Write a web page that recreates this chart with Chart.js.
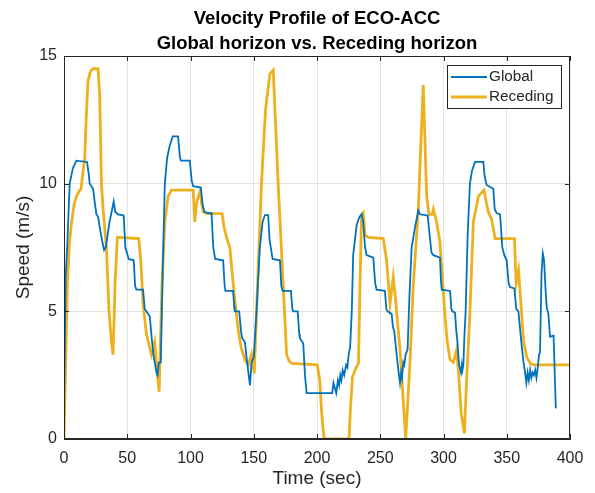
<!DOCTYPE html>
<html>
<head>
<meta charset="utf-8">
<script src="https://cdn.jsdelivr.net/npm/chart.js@4"></script>
<style>
  html, body { margin: 0; padding: 0; background: #fff; }
  canvas { display: block; }
</style>
</head>
<body>
<canvas id="speedChart" width="595" height="493"></canvas>
<script>
// values
const timeTicks = [0, 50, 100, 150, 200, 250, 300, 350, 400];
const speedTicks = [0, 5, 10, 15];

const globalTime = [0, 1.3, 2.5, 4.5, 7, 9.8, 18.2, 19.5, 20.3, 23, 24.5, 25.6, 27, 28.2, 30, 31.7, 33, 36, 39.3, 40.5, 42.7, 47.2, 48.5, 51.2, 55.1, 56.2, 57.2, 62.5, 63.8, 65.1, 67.8, 69.6, 71, 73.1, 73.9, 75, 76.5, 78, 79.7, 81.5, 83.6, 86, 90.2, 91.5, 92.3, 99.4, 101, 102.1, 108.2, 109.5, 111, 113.9, 116.6, 118, 119.5, 125.8, 127, 127.6, 133.7, 134.5, 135, 138.5, 140, 140.9, 143, 144.3, 146, 147, 148.2, 150, 152.2, 154.8, 157, 158.8, 161.4, 162.5, 164.9, 170.7, 171.8, 172.8, 179.4, 180.5, 181.2, 184.7, 186, 186.5, 189.1, 190.5, 191.8, 212, 213, 215.2, 216.5, 217.5, 218.4, 219.3, 220.3, 221.5, 223, 224, 225, 226.2, 227.5, 228.6, 231.3, 233.5, 235.3, 236.5, 238, 239.2, 244.5, 246, 247.1, 253.7, 254.8, 255.8, 259, 260, 261.1, 263, 264.3, 265.6, 266.5, 267.2, 268.2, 269, 270, 271.6, 273, 274.8, 277.5, 280.1, 281.5, 287.5, 289, 290.5, 292, 297.2, 298, 298.6, 305.2, 306.2, 307, 309.1, 310, 311, 312.3, 313.8, 314.5, 315, 315.7, 316.5, 317.5, 319.1, 320.9, 322.5, 324.9, 331.5, 332.5, 334.1, 339.4, 340.5, 342, 344.7, 346.5, 348.1, 349.9, 351.5, 352.6, 356, 357.5, 359.2, 360, 361.3, 363, 364.5, 365.5, 366.5, 367.5, 368.5, 369.5, 370.5, 371.5, 372.5, 373.5, 374.5, 375.5, 376.3, 377.5, 378.5, 379.5, 380.5, 381.6, 382.9, 384.2, 387, 388.8];
const globalSpeed = [1.0, 6.3, 7.5, 10.0, 10.6, 10.9, 10.85, 10.4, 10.0, 9.8, 9.2, 8.8, 8.7, 8.3, 7.8, 7.4, 7.5, 8.5, 9.3, 8.9, 8.8, 8.75, 7.5, 7.05, 7.0, 6.0, 5.85, 5.85, 5.1, 5.0, 4.8, 3.8, 3.2, 2.6, 2.5, 3.0, 3.0, 6.5, 10.0, 11.0, 11.5, 11.85, 11.85, 11.1, 10.9, 10.9, 10.1, 9.9, 9.85, 9.2, 8.9, 8.85, 8.85, 7.5, 7.05, 7.0, 6.0, 5.8, 5.8, 5.2, 5.0, 5.0, 4.2, 3.95, 3.8, 3.2, 2.5, 2.1, 3.0, 3.2, 5.0, 7.5, 8.5, 8.77, 8.77, 7.8, 7.05, 7.0, 6.0, 5.8, 5.8, 5.1, 5.0, 5.0, 4.1, 3.95, 3.75, 2.5, 1.8, 1.8, 2.2, 1.8, 2.3, 2.1, 2.5, 2.3, 2.7, 2.5, 2.9, 2.8, 3.3, 3.6, 5.0, 7.2, 8.37, 8.7, 8.8, 8.5, 7.5, 7.2, 7.1, 6.1, 5.85, 5.8, 5.1, 5.0, 4.9, 4.4, 4.2, 3.3, 2.7, 2.2, 2.6, 2.4, 3.0, 2.9, 3.3, 3.5, 5.5, 7.5, 8.3, 8.95, 8.8, 8.75, 8.0, 7.3, 7.2, 7.1, 6.2, 5.85, 5.8, 5.1, 5.0, 4.95, 4.3, 3.8, 2.9, 2.6, 2.9, 2.7, 2.9, 4.0, 5.0, 8.0, 10.0, 10.5, 10.85, 10.85, 10.3, 9.95, 9.8, 9.0, 8.85, 8.8, 7.5, 7.2, 7.0, 6.1, 5.95, 5.9, 5.1, 5.0, 4.6, 3.9, 3.1, 2.6, 2.2, 2.6, 2.3, 2.7, 2.4, 2.6, 2.5, 2.7, 2.4, 2.8, 3.3, 3.4, 6.5, 7.27, 7.0, 6.0, 5.15, 4.9, 4.0, 4.05, 1.2];

const recedingTime = [0, 1.5, 2.7, 4.5, 5.8, 8, 9.8, 11.9, 13.5, 15.1, 16.4, 17.5, 19, 21, 23, 26.9, 28.2, 29.6, 30.9, 33.5, 35.6, 37.5, 38.8, 40.4, 42.2, 59.1, 60.7, 62.5, 65.1, 69.1, 71.7, 73, 75.2, 77.5, 79.7, 82.3, 84.9, 102.1, 103.4, 105, 107.4, 110, 112.6, 125, 126.5, 128.5, 131.1, 134.5, 137.7, 140, 143, 145.6, 148.2, 150.4, 152.2, 156.1, 159.3, 162.8, 165.4, 169.3, 174.3, 176, 178, 180, 200.2, 202.2, 203.7, 205.6, 225.3, 226.5, 228.1, 230.7, 232.8, 234, 235.2, 236.6, 237.9, 240.5, 252.4, 255, 257.7, 260.3, 262, 265.6, 270.1, 273.5, 276.1, 280.1, 282.2, 284, 286.7, 288.5, 291.2, 292, 294.6, 297.2, 301.2, 303, 305.2, 307.8, 310.4, 312, 314, 316.5, 318, 320.9, 323.6, 327.6, 332, 334.1, 335.4, 338.1, 340.8, 356.1, 357.4, 359.3, 361.8, 363.2, 365.8, 368.5, 371, 400];
const recedingSpeed = [0, 3.5, 6.1, 7.8, 8.4, 9.2, 9.5, 9.7, 9.8, 10.5, 11.0, 12.5, 14.05, 14.4, 14.5, 14.5, 13.5, 10.0, 9.0, 7.5, 5.0, 3.8, 3.3, 6.1, 7.9, 7.85, 7.0, 5.3, 4.13, 3.3, 3.8, 3.0, 1.85, 6.1, 8.5, 9.5, 9.75, 9.75, 8.5, 9.3, 9.68, 8.9, 8.83, 8.83, 8.3, 7.9, 7.5, 5.7, 4.27, 3.6, 3.1, 2.9, 3.3, 2.57, 5.0, 10.0, 12.9, 14.3, 14.45, 10.0, 5.0, 3.3, 3.05, 2.96, 2.9, 2.3, 1.0, 0, 0, 1.27, 2.44, 2.77, 2.97, 6.0, 8.8, 8.87, 8.0, 7.9, 7.85, 7.0, 5.3, 6.35, 5.5, 3.5, 0, 3.0, 6.0, 9.0, 11.7, 13.86, 9.5, 8.8, 8.8, 9.0, 8.5, 7.7, 4.8, 3.8, 3.1, 3.0, 3.5, 2.5, 1.0, 0.22, 2.0, 5.0, 8.5, 9.5, 9.75, 9.2, 8.9, 8.6, 7.85, 7.85, 6.09, 6.6, 4.9, 3.86, 3.2, 2.97, 2.9, 2.9];

const axisColor = '#262626';
const font = 'Liberation Sans, Arial, Helvetica, sans-serif';

function toPoints(xs, ys) {
    return xs.map((x, i) => ({x: x, y: ys[i]}));
}

// MATLAB style: box round the axes and ticks pointing inward
const boxPlugin = {
    id: 'boxAndTicks',
    afterDatasetsDraw(chart) {
        const {ctx, chartArea: a, scales} = chart;
        ctx.save();
        ctx.strokeStyle = axisColor;
        ctx.lineWidth = 1;
        ctx.beginPath();
        ctx.rect(a.left + 0.5, a.top + 0.5, a.right - a.left - 1, a.bottom - a.top - 1);
        timeTicks.forEach(t => {
            const x = Math.round(scales.x.getPixelForValue(t)) + 0.5;
            ctx.moveTo(x, a.bottom); ctx.lineTo(x, a.bottom - 5);
            ctx.moveTo(x, a.top); ctx.lineTo(x, a.top + 5);
        });
        speedTicks.forEach(v => {
            const y = Math.round(scales.y.getPixelForValue(v)) + 0.5;
            ctx.moveTo(a.left, y); ctx.lineTo(a.left + 5, y);
            ctx.moveTo(a.right, y); ctx.lineTo(a.right - 5, y);
        });
        ctx.stroke();
        ctx.restore();
    }
};

const legendPlugin = {
    id: 'boxLegend',
    afterDraw(chart) {
        const {ctx, chartArea: a} = chart;
        const w = 114, h = 43;
        const x0 = a.right - 9 - w, y0 = a.top + 9;
        ctx.save();
        ctx.fillStyle = '#fff';
        ctx.fillRect(x0, y0, w, h);
        ctx.strokeStyle = axisColor;
        ctx.lineWidth = 1;
        ctx.strokeRect(x0 + 0.5, y0 + 0.5, w, h);
        ctx.font = '15.3px ' + font;
        ctx.textBaseline = 'middle';
        chart.data.datasets.forEach((ds, i) => {
            const y = y0 + 12 + i * 20;
            ctx.strokeStyle = ds.borderColor;
            ctx.lineWidth = ds.borderWidth;
            ctx.beginPath();
            ctx.moveTo(x0 + 4, y);
            ctx.lineTo(x0 + 40, y);
            ctx.stroke();
            ctx.fillStyle = axisColor;
            ctx.fillText(ds.label, x0 + 42, y);
        });
        ctx.restore();
    }
};

const ctx = document.getElementById('speedChart').getContext('2d');
const speedChart = new Chart(ctx, {
    type: 'line',
    data: {
        datasets: [{
            label: 'Global',
            data: toPoints(globalTime, globalSpeed),
            borderColor: '#0072BD',
            borderWidth: 1.8,
            pointRadius: 0,
            tension: 0
        }, {
            label: 'Receding',
            data: toPoints(recedingTime, recedingSpeed),
            borderColor: '#EDB120',
            borderWidth: 2.8,
            pointRadius: 0,
            tension: 0
        }]
    },
    options: {
        responsive: false,
        animation: false,
        devicePixelRatio: 1,
        layout: { padding: { left: 0, right: 25, top: 0, bottom: 0 } },
        plugins: {
            legend: { display: false },
            tooltip: { enabled: false },
            title: {
                display: true,
                fullSize: false,
                text: ['Velocity Profile of ECO-ACC', 'Global horizon vs. Receding horizon'],
                color: '#000',
                font: { family: font, size: 18.5, weight: 'bold', lineHeight: '25px' },
                padding: { top: 6, bottom: 0 }
            }
        },
        scales: {
            x: {
                type: 'linear',
                min: 0,
                max: 400,
                afterBuildTicks: scale => { scale.ticks = timeTicks.map(v => ({value: v})); },
                afterFit: scale => { scale.height = 54; },
                grid: { color: '#e3e3e3', drawTicks: false },
                border: { color: axisColor },
                ticks: { color: axisColor, padding: 10, font: { family: font, size: 16 } },
                title: {
                    display: true,
                    text: 'Time (sec)',
                    color: axisColor,
                    font: { family: font, size: 19 },
                    padding: { top: 0, bottom: 3 }
                }
            },
            y: {
                min: 0,
                max: 15,
                afterBuildTicks: scale => { scale.ticks = speedTicks.map(v => ({value: v})); },
                afterFit: scale => { scale.width = 64; },
                grid: { color: '#e3e3e3', drawTicks: false },
                border: { color: axisColor },
                ticks: { color: axisColor, padding: 7, font: { family: font, size: 16 } },
                title: {
                    display: true,
                    text: 'Speed (m/s)',
                    color: axisColor,
                    font: { family: font, size: 19 },
                    padding: { top: 12, bottom: 0 }
                }
            }
        }
    },
    plugins: [boxPlugin, legendPlugin]
});
</script>
</body>
</html>
